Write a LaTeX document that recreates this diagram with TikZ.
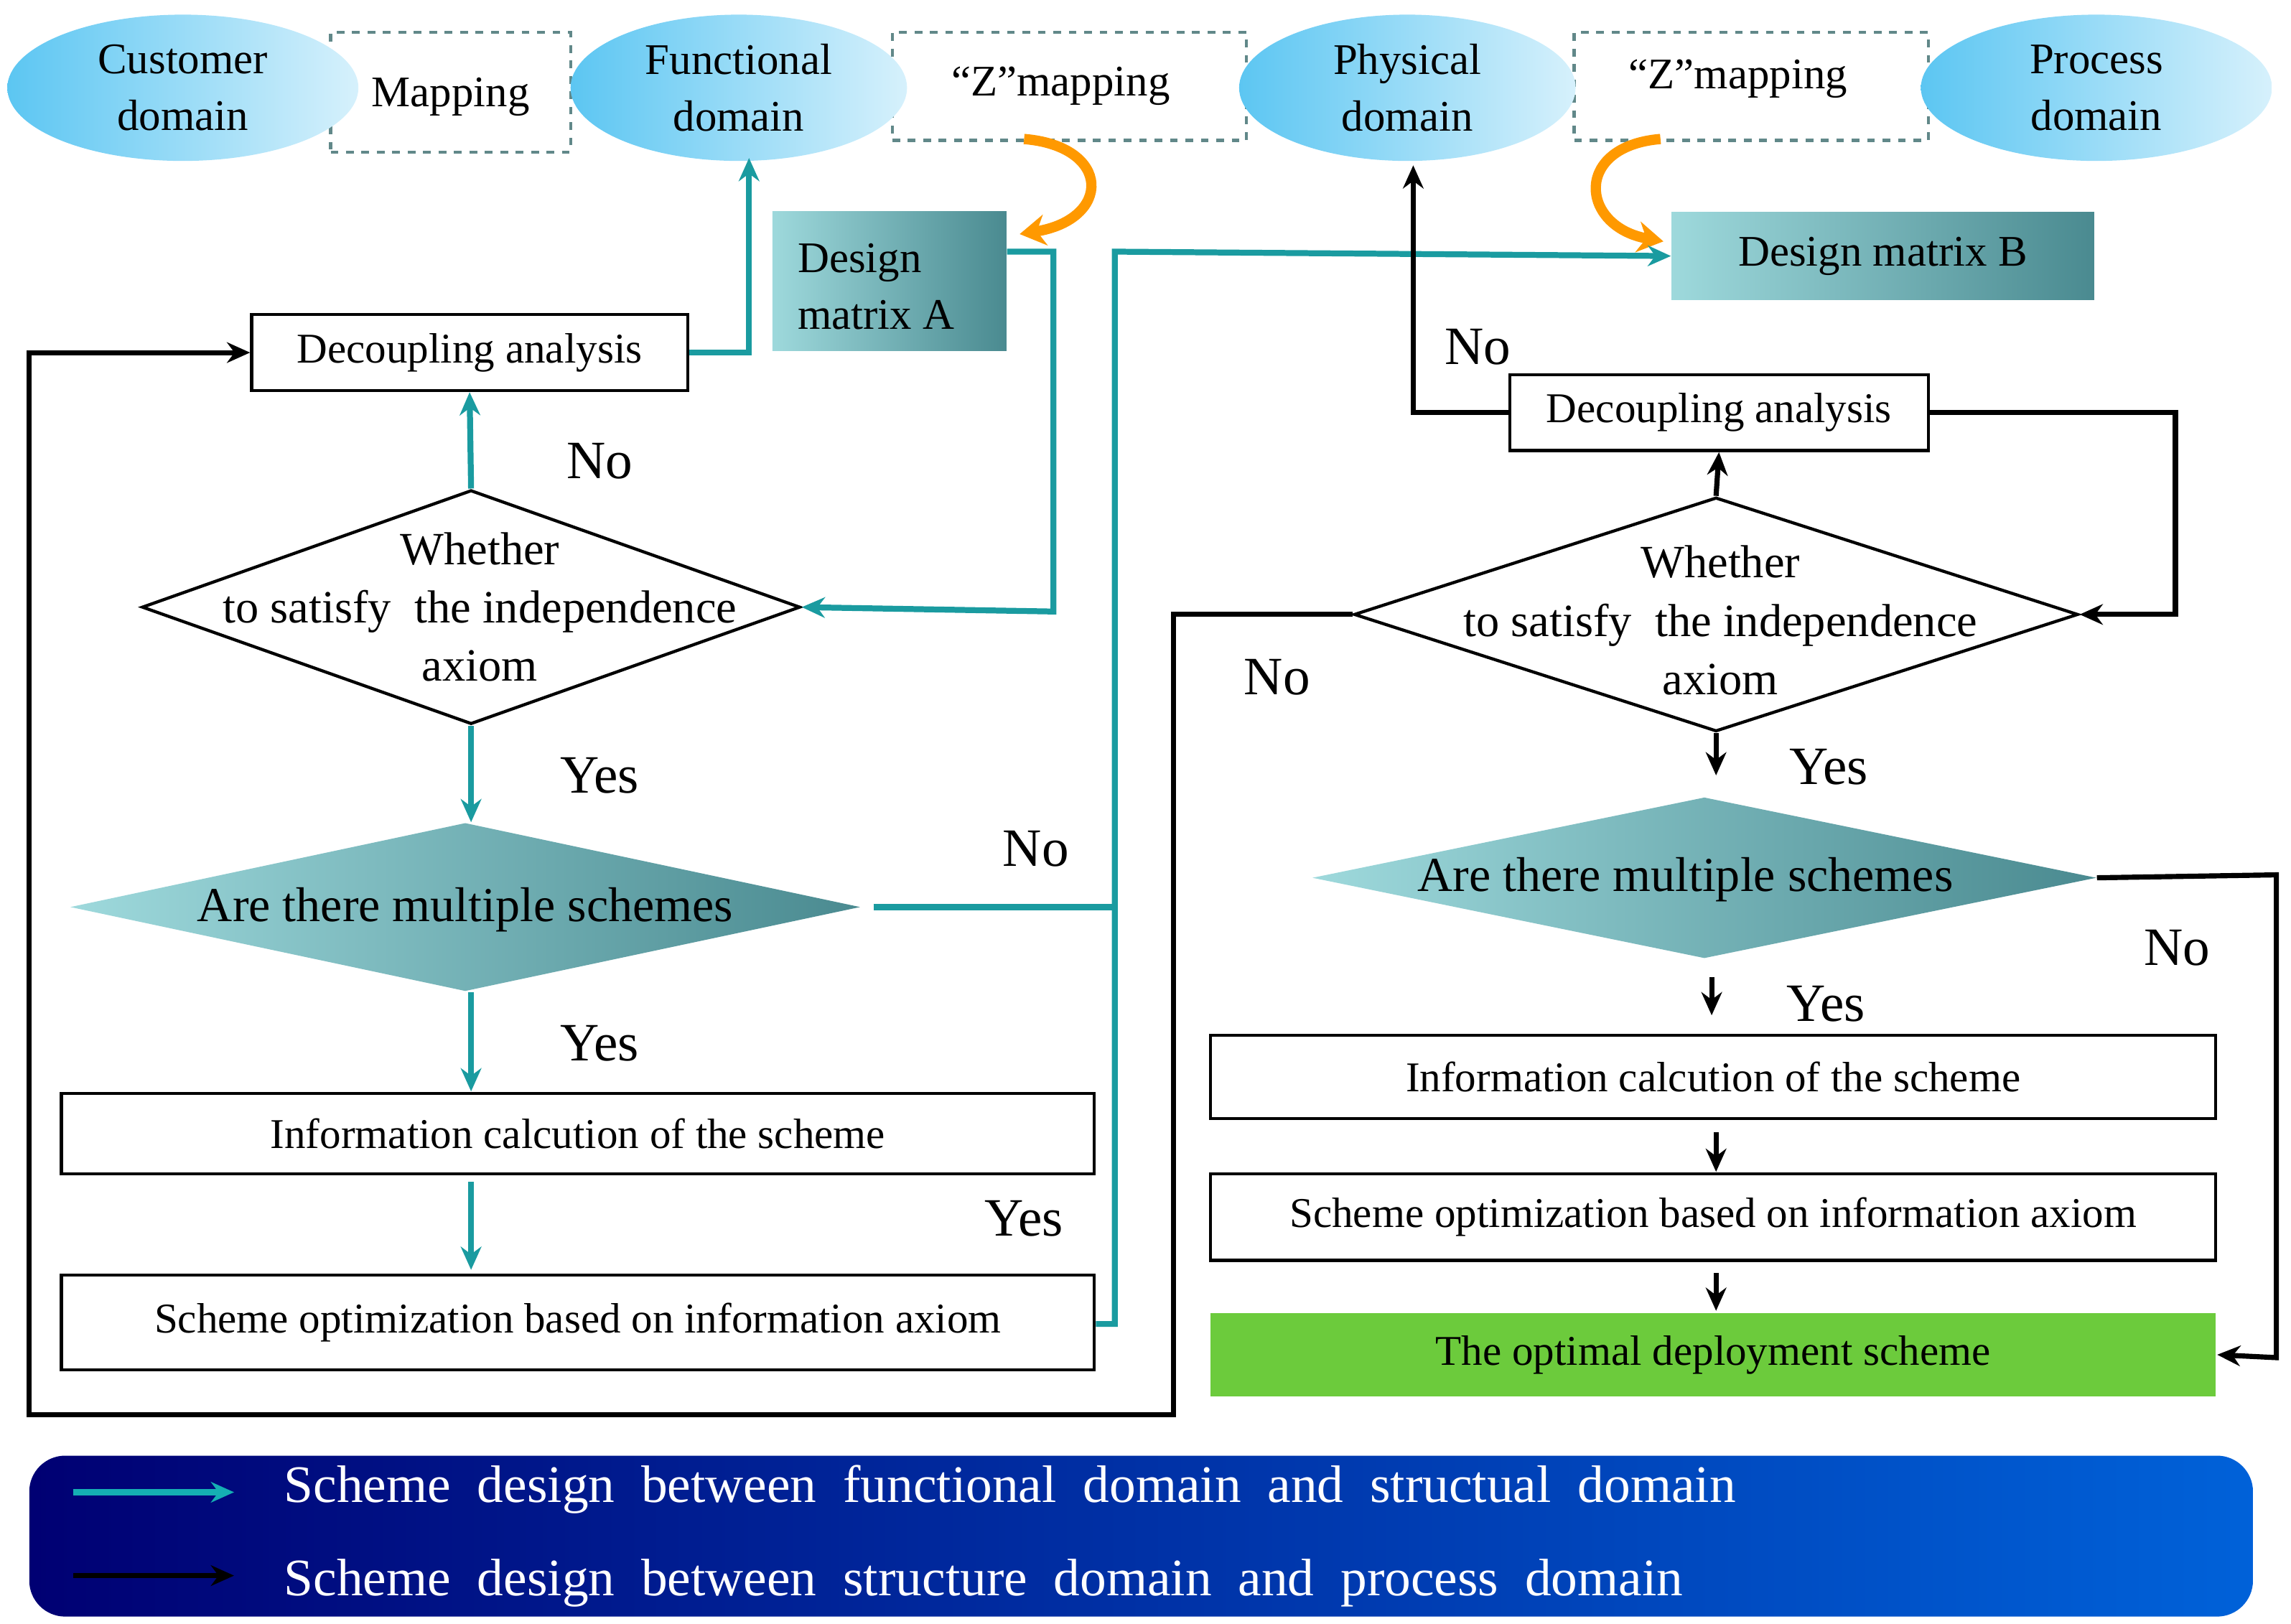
\documentclass[tikz,border=0pt]{standalone}
\usepackage{fontspec}
\setmainfont{Liberation Serif}
\usetikzlibrary{shapes.geometric,arrows.meta,calc}
\definecolor{tl}{HTML}{1A9BA0}
\definecolor{ell}{HTML}{5CC6F2}
\definecolor{dm1}{HTML}{9ED9DC}
\definecolor{dm2}{HTML}{4A8A90}
\definecolor{grn}{HTML}{6CCB3C}
\newcommand\uu{0.02cm}
\tikzset{
 x=0.02cm,y=-0.02cm,
 dom/.style={ellipse,minimum width=240*\uu,minimum height=100*\uu,left color=ell,right color=ell!25,draw=none,align=center,font=\fontsize{17}{22}\selectfont,inner sep=0},
 map/.style={draw=gray!70!tl,dashed,line width=1.2pt,align=center,font=\fontsize{17}{22}\selectfont,inner sep=0},
 box/.style={draw,line width=1.2pt,align=center,font=\fontsize{16.5}{20}\selectfont,inner sep=0},
 dia/.style={diamond,draw,line width=1.2pt,inner sep=0},
 mdia/.style={diamond,draw=none,left color=dm1,right color=dm2,inner sep=0},
 dtxt/.style={align=center,font=\fontsize{18}{22.7}\selectfont,inner sep=0},
 mtxt/.style={font=\fontsize{19}{22}\selectfont,inner sep=0},
 tla/.style={draw=tl,line width=2.3pt,-{Stealth[length=9pt,width=8pt]}},
 tll/.style={draw=tl,line width=2.3pt},
 bka/.style={draw=black,line width=2pt,-{Stealth[length=9pt,width=8pt]}},
 lab/.style={font=\fontsize{21}{24}\selectfont},
 org/.style={draw=orange!80!yellow,line width=4pt,-{Stealth[length=10pt,width=12pt]}}
}
\begin{document}
\begin{tikzpicture}
\useasboundingbox (0,0) rectangle (1566,1110);
% top domains
\node[map,minimum width=164*\uu,minimum height=82*\uu] (m1) at (308,63) {};
\node[map,minimum width=242*\uu,minimum height=74*\uu] (z1) at (731,59) {};
\node[map,minimum width=242*\uu,minimum height=74*\uu] (z2) at (1197,59) {};
\node[dom] (cd) at (125,60) {Customer\\domain};
\node[font=\fontsize{17}{22}\selectfont] (m1t) at (308,66) {Mapping};
\node[dom,minimum width=230*\uu] (fd) at (505,60) {Functional\\domain};
\node[font=\fontsize{17}{22}\selectfont] (z1t) at (725,59) {“Z”mapping};
\node[dom,minimum width=230*\uu] (pd) at (962,60) {Physical\\domain};
\node[font=\fontsize{17}{22}\selectfont] (z2t) at (1188,54) {“Z”mapping};
\node[dom] (prd) at (1433,60) {Process\\domain};
% design matrices
\node[minimum width=160*\uu,minimum height=95*\uu,left color=dm1,right color=dm2,inner sep=0] (dma) at (608,192) {};
\node[anchor=west,align=left,font=\fontsize{17}{22}\selectfont,inner sep=0] (dmat) at (545,196) {Design\\matrix A};
\node[minimum width=289*\uu,minimum height=60*\uu,left color=dm1,right color=dm2,font=\fontsize{17}{22}\selectfont,inner sep=0] (dmb) at (1287,175) {Design matrix B};
\draw[org] (700,95) .. controls (760,100) and (760,150) .. (697,160);
\draw[org] (1135,95) .. controls (1075,100) and (1080,155) .. (1137,165);
% left column
\node[box,minimum width=298*\uu,minimum height=52*\uu] (dal) at (321,241) {Decoupling analysis};
\node[dia,minimum width=450*\uu,minimum height=160*\uu] (wl) at (322,415) {};
\node[dtxt] (wlt) at (328,415) {Whether\\to satisfy\enspace the independence\\axiom};
\node[mdia,minimum width=540*\uu,minimum height=115*\uu] (ml) at (318,620) {};
\node[mtxt] (mlt) at (318,622) {Are there multiple schemes};
\node[box,minimum width=706*\uu,minimum height=55*\uu] (il) at (395,775) {Information calcution of the scheme};
\node[box,minimum width=706*\uu,minimum height=65*\uu] (sl) at (395,904) {Scheme optimization based on information axiom};
% right column
\node[box,minimum width=286*\uu,minimum height=52*\uu] (dar) at (1175,282) {Decoupling analysis};
\node[dia,minimum width=495*\uu,minimum height=160*\uu] (wr) at (1173,420) {};
\node[dtxt] (wrt) at (1176,424) {Whether\\to satisfy\enspace the independence\\axiom};
\node[mdia,minimum width=536*\uu,minimum height=110*\uu] (mr) at (1165,600) {};
\node[mtxt] (mrt) at (1152,601) {Are there multiple schemes};
\node[box,minimum width=687*\uu,minimum height=57*\uu] (ir) at (1171,736) {Information calcution of the scheme};
\node[box,minimum width=687*\uu,minimum height=59*\uu] (sr) at (1171,832) {Scheme optimization based on information axiom};
\node[box,draw=none,fill=grn,minimum width=687*\uu,minimum height=57*\uu] (opt) at (1171,926) {The optimal deployment scheme};
% teal connectors
\draw[tla] (wl.north) -- (dal.south);
\draw[tla] (dal.east) -- (512,241) -- (512,108);
\draw[tla] (dma.east |- 0,172) -- (720,172) -- (720,418) -- (wl.east);
\draw[tla] (wl.south) -- (322,562);
\draw[tla] (322,678) -- (322,746);
\draw[tla] (322,808) -- (322,868);
\draw[tll] (597,620) -- (762,620);
\draw[tla] (sl.east |- 0,905) -- (762,905) -- (762,172) -- (dmb.west);
% black connectors
\draw[bka] (dar.west) -- (966,282) -- (966,113);
\draw[bka] (dar.east) -- (1487,282) -- (1487,420) -- (wr.east);
\draw[bka] (wr.north) -- (dar.south);
\draw[bka] (wr.west) -- (802,420) -- (802,967) -- (20,967) -- (20,241) -- (dal.west);
\draw[bka] (wr.south) -- (1173,530);
\draw[bka] (1170,668) -- (1170,694);
\draw[bka] (1173,774) -- (1173,801);
\draw[bka] (1173,870) -- (1173,896);
\draw[bka] (mr.east) -- (1556,598) -- (1556,928) -- (opt.east);
% labels
\node[lab] (n1) at (410,315) {No};
\node[lab] (y1) at (410,530) {Yes};
\node[lab] (y2) at (410,713) {Yes};
\node[lab] (n2) at (708,580) {No};
\node[lab] (y3) at (700,833) {Yes};
\node[lab] (n3) at (1010,237) {No};
\node[lab] (n4) at (873,463) {No};
\node[lab] (y4) at (1250,524) {Yes};
\node[lab] (y5) at (1248,686) {Yes};
\node[lab] (n5) at (1488,648) {No};
% legend
\node[rounded corners=14pt,minimum width=1520*\uu,minimum height=110*\uu,left color=blue!45!black,right color=blue!55!cyan!85!black,inner sep=0] (leg) at (780,1050) {};
\coordinate (a1s) at (50,1020); \coordinate (a1e) at (160,1020);
\coordinate (a2s) at (50,1077); \coordinate (a2e) at (160,1077);
\draw[draw=tl!80!cyan,line width=2.5pt,-{Stealth[length=9pt,width=8pt]}] (a1s) -- (a1e);
\draw[bka] (a2s) -- (a2e);
\node[anchor=west,text=white,font=\fontsize{20.5}{24}\selectfont] (l1) at (188,1018) {Scheme\enspace design\enspace between\enspace functional\enspace domain\enspace and\enspace structual\enspace domain};
\node[anchor=west,text=white,font=\fontsize{20.5}{24}\selectfont] (l2) at (188,1082) {Scheme\enspace design\enspace between\enspace structure\enspace domain\enspace and\enspace process\enspace domain};
\end{tikzpicture}
\end{document}
